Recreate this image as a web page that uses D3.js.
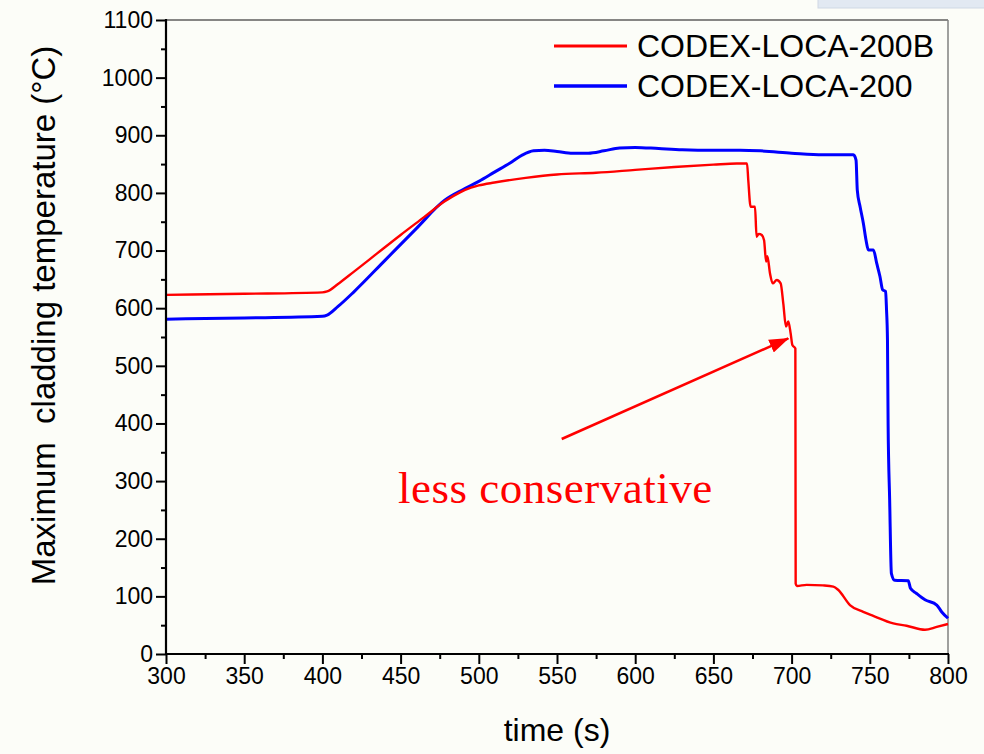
<!DOCTYPE html>
<html>
<head>
<meta charset="utf-8">
<script src="https://cdn.jsdelivr.net/npm/d3@7"></script>
<style>
  html, body { margin: 0; padding: 0; background: #fcfdf8; }
  svg { display: block; }
  text { font-family: "Liberation Sans", Arial, sans-serif; fill: #000; }
</style>
</head>
<body>
<svg id="chart" width="984" height="754"></svg>
<script>
// Maximum cladding temperature histories (time in s, temperature in °C)
const timeB = [300, 350, 400, 403, 410, 420, 435, 450, 465, 478, 488, 495, 500, 510, 530, 550, 575, 600, 625, 650, 665, 671.5,
  672.3, 673.8, 676.6, 677.6, 679, 680.9, 682.4, 683.7, 684.5, 686.2, 687.9, 690.5, 693, 694.7, 696.4, 697.9, 699.4, 700.5, 702.4,
  702.6, 703.4, 709.6, 720, 726.7, 729.9, 737.3, 745.8, 752.2, 765, 773.5, 785.3, 792.8, 800];
const tempB = [623, 625, 627.5, 629, 642, 663, 695, 727, 758, 785, 801, 809, 813, 818, 826, 832, 835, 840, 845, 849, 851, 851,
  822, 776, 776, 724, 729, 727, 718, 681, 690, 660, 643, 649, 643, 608, 568, 577, 556, 536, 530,
  122, 118, 120, 119, 117, 111, 85, 73, 66, 53, 49, 42, 47, 52];

const time200 = [300, 350, 400, 403, 410, 420, 440, 460, 478, 490, 500, 510, 520, 528, 535, 542, 550, 560, 570, 580, 590, 600,
  615, 630, 650, 667, 680, 700, 720, 739.5,
  741.2, 742, 743.8, 745.9, 747.6, 749.1, 752.3, 754.4, 756.5, 758.2, 760.1, 760.7, 761.3, 761.7, 762.7, 763.8, 765.9,
  774.6, 776, 779.9, 785.3, 792.8, 796, 800];
const temp200 = [581, 583, 586, 588, 603, 628, 683, 738, 787, 806, 820, 836, 852, 866, 873, 874, 872, 869, 869, 873, 878, 879,
  877, 875, 874, 874, 873, 869, 866, 866,
  857, 805, 776, 747, 718, 701, 701, 678, 655, 632, 629, 597, 545, 400, 267, 140, 128,
  127, 114, 105, 94, 85, 73, 62];

const seriesNames = ["CODEX-LOCA-200B", "CODEX-LOCA-200"];
const seriesColors = ["#ff0000", "#0000ff"];
const xTicks = [300, 350, 400, 450, 500, 550, 600, 650, 700, 750, 800];
const yTicks = [0, 100, 200, 300, 400, 500, 600, 700, 800, 900, 1000, 1100];

// Annotation arrow: start and tip in data coordinates
const arrowFrom = [553, 373];
const arrowTo = [697.9, 547.7];
const noteText = "less conservative";

const svg = d3.select("#chart");
const plotL = 166, plotR = 948, plotT = 20, plotB = 654;

const x = d3.scaleLinear().domain([300, 800]).range([plotL, plotR]);
const y = d3.scaleLinear().domain([0, 1100]).range([plotB, plotT]);

// small light box at the top-right corner
svg.append("rect").attr("x", 818).attr("y", -1).attr("width", 170).attr("height", 9)
  .attr("fill", "#e2e9f2").attr("stroke", "#cfd8e4").attr("stroke-width", 1);

// frame: thin top and right edges
svg.append("line").attr("x1", plotL).attr("x2", plotR).attr("y1", plotT).attr("y2", plotT)
  .attr("stroke", "#111").attr("stroke-width", 1.2);
svg.append("line").attr("x1", plotR).attr("x2", plotR).attr("y1", plotT).attr("y2", plotB)
  .attr("stroke", "#808080").attr("stroke-width", 1.5);

// curves
const line = d3.line().curve(d3.curveMonotoneX).x(d => x(d[0])).y(d => y(d[1]));
const dataB = timeB.map((t, i) => [t, tempB[i]]);
const data200 = time200.map((t, i) => [t, temp200[i]]);

svg.append("path").datum(data200).attr("d", line)
  .attr("fill", "none").attr("stroke", seriesColors[1]).attr("stroke-width", 3)
  .attr("stroke-linejoin", "round");
svg.append("path").datum(dataB).attr("d", line)
  .attr("fill", "none").attr("stroke", seriesColors[0]).attr("stroke-width", 2.4)
  .attr("stroke-linejoin", "round");

// axes: minor ticks, then major ticks with labels
const xMinor = d3.range(325, 800, 50);
const yMinor = d3.range(50, 1100, 100);

const gx = svg.append("g").attr("transform", `translate(0,${plotB})`)
  .call(d3.axisBottom(x).tickValues(xMinor).tickSize(5).tickFormat(""));
gx.selectAll(".tick line").attr("stroke-width", 2);
const gx2 = svg.append("g").attr("transform", `translate(0,${plotB})`)
  .call(d3.axisBottom(x).tickValues(xTicks).tickSize(10).tickPadding(4).tickFormat(d3.format("d")));
gx2.selectAll(".tick line").attr("stroke-width", 2);
gx2.selectAll(".tick text").attr("font-size", 23);

const gy = svg.append("g").attr("transform", `translate(${plotL},0)`)
  .call(d3.axisLeft(y).tickValues(yMinor).tickSize(5).tickFormat(""));
gy.selectAll(".tick line").attr("stroke-width", 2);
const gy2 = svg.append("g").attr("transform", `translate(${plotL},0)`)
  .call(d3.axisLeft(y).tickValues(yTicks).tickSize(10).tickPadding(3).tickFormat(d3.format("d")));
gy2.selectAll(".tick line").attr("stroke-width", 2);
gy2.selectAll(".tick text").attr("font-size", 23);
svg.selectAll(".domain").remove();

// left and bottom axis lines
svg.append("line").attr("x1", plotL).attr("x2", plotL).attr("y1", plotT - 1).attr("y2", plotB + 1)
  .attr("stroke", "#000").attr("stroke-width", 2.2);
svg.append("line").attr("x1", plotL - 1).attr("x2", plotR + 1).attr("y1", plotB).attr("y2", plotB)
  .attr("stroke", "#000").attr("stroke-width", 2.2);

// axis titles
svg.append("text").attr("x", (plotL + plotR) / 2).attr("y", 741)
  .attr("text-anchor", "middle").attr("font-size", 32).text("time (s)");
svg.append("text")
  .attr("transform", `translate(55,${(43 + 588) / 2}) rotate(-90)`)
  .attr("text-anchor", "middle").attr("font-size", 33)
  .style("white-space", "pre")
  .text("Maximum  cladding temperature (°C)");

// legend
const legendY = [46, 86];
seriesNames.forEach((name, i) => {
  svg.append("line").attr("x1", 554).attr("x2", 627).attr("y1", legendY[i]).attr("y2", legendY[i])
    .attr("stroke", seriesColors[i]).attr("stroke-width", i === 0 ? 3 : 3.5);
  svg.append("text").attr("x", 637).attr("y", legendY[i] + 11)
    .attr("font-size", 32).text(name);
});

// annotation
const defs = svg.append("defs");
defs.append("marker").attr("id", "head").attr("viewBox", "0 0 20 14")
  .attr("refX", 19).attr("refY", 7).attr("markerWidth", 20).attr("markerHeight", 14)
  .attr("markerUnits", "userSpaceOnUse").attr("orient", "auto")
  .append("path").attr("d", "M0,0 L20,7 L0,14 Z").attr("fill", "#ff0000");
svg.append("line")
  .attr("x1", x(arrowFrom[0])).attr("y1", y(arrowFrom[1]))
  .attr("x2", x(arrowTo[0])).attr("y2", y(arrowTo[1]))
  .attr("stroke", "#ff0000").attr("stroke-width", 2.5).attr("marker-end", "url(#head)");
svg.append("text").attr("x", 398).attr("y", 503)
  .style("font-family", "'Liberation Serif', 'Times New Roman', serif").attr("font-size", 45)
  .style("letter-spacing", "0.5px")
  .style("fill", "#ff0000").text(noteText);
</script>
</body>
</html>
